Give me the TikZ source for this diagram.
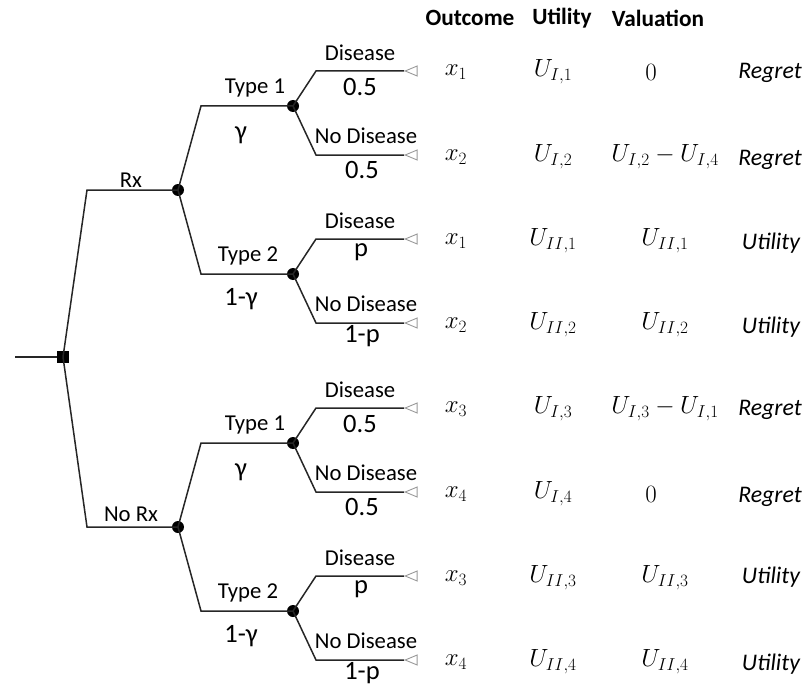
\documentclass[tikz,border=0pt]{standalone}
\usepackage{fontspec}
\setmainfont{Carlito}
\usetikzlibrary{shapes.geometric}
\begin{document}
\begin{tikzpicture}[x=1pt,y=-1pt,
 edge/.style={draw=black!85, line width=1.5pt},
 chance/.style={circle, fill=black, inner sep=0pt, minimum size=12pt},
 decision/.style={rectangle, fill=black, inner sep=0pt, minimum size=12pt},
 term/.style={isosceles triangle, isosceles triangle stretches, shape border rotate=180, draw=black!40, line width=0.9pt, inner sep=0pt, minimum width=10pt, minimum height=12pt},
 lbl/.style={inner sep=0pt, font=\fontsize{22.7}{26}\selectfont},
 prob/.style={inner sep=0pt, font=\fontsize{26.5}{29}\selectfont},
 head/.style={inner sep=0pt, font=\bfseries\fontsize{23.3}{26}\selectfont},
 mth/.style={inner sep=0pt, font=\fontsize{27}{30}\selectfont},
 note/.style={inner sep=0pt, font=\itshape\fontsize{23.8}{26}\selectfont}]
\useasboundingbox (0,0) rectangle (804,685);

% root
\coordinate (start) at (15,357);
\node[decision] (d0) at (63,357) {};
\draw[edge] (start) -- (d0);

\foreach \h/\dy/\rx/\ry in {a/0/Rx/180, b/337/No Rx/514} {
  \node[chance] (\h c) at (178,{190+\dy}) {};
  \coordinate (\h k) at (87,{190+\dy});
  \draw[edge] (d0.center) -- (\h k) -- (\h c.center);
  \node[lbl] (\h rxl) at (131,\ry) {\rx};
  % type 1
  \node[chance] (\h t1) at (293,{106+\dy}) {};
  \coordinate (\h t1k) at (201,{106+\dy});
  \draw[edge] (\h c.center) -- (\h t1k) -- (\h t1.center);
  \node[lbl] (\h t1l) at (255,{88+\dy}) {Type 1};
  \node[prob] (\h t1p) at (241,{135+\dy}) {γ};
  % type 2
  \node[chance] (\h t2) at (293,{274+\dy}) {};
  \coordinate (\h t2k) at (201,{274+\dy});
  \draw[edge] (\h c.center) -- (\h t2k) -- (\h t2.center);
  \node[lbl] (\h t2l) at (248,{256+\dy}) {Type 2};
  \node[prob] (\h t2p) at (241,{299+\dy}) {1-γ};
  % terminals
  \node[term, anchor=apex] (\h e1) at (404,{71+\dy}) {};
  \node[term, anchor=apex] (\h e2) at (404,{155+\dy}) {};
  \node[term, anchor=apex] (\h e3) at (404,{239+\dy}) {};
  \node[term, anchor=apex] (\h e4) at (404,{323+\dy}) {};
  \coordinate (\h k1) at (316,{71+\dy});
  \coordinate (\h k2) at (316,{155+\dy});
  \coordinate (\h k3) at (316,{239+\dy});
  \coordinate (\h k4) at (316,{323+\dy});
  \draw[edge] (\h t1.center) -- (\h k1) -- (\h e1.apex);
  \draw[edge] (\h t1.center) -- (\h k2) -- (\h e2.apex);
  \draw[edge] (\h t2.center) -- (\h k3) -- (\h e3.apex);
  \draw[edge] (\h t2.center) -- (\h k4) -- (\h e4.apex);
  \node[lbl] (\h l1) at (360,{53+\dy}) {Disease};
  \node[prob] (\h p1) at (360,{87+\dy}) {0.5};
  \node[lbl] (\h l2) at (366,{136+\dy}) {No Disease};
  \node[prob] (\h p2) at (362,{170+\dy}) {0.5};
  \node[lbl] (\h l3) at (360,{221+\dy}) {Disease};
  \node[prob] (\h p3) at (361,{252+\dy}) {p};
  \node[lbl] (\h l4) at (366,{304+\dy}) {No Disease};
  \node[prob] (\h p4) at (362,{336+\dy}) {1-p};
}

% headers
\node[head] (h1) at (470,18) {Outcome};
\node[head] (h2) at (562,18) {Utility};
\node[head] (h3) at (658,18) {Valuation};

% rows
\node[mth] (o1) at (456,72) {$x_1$};
\node[mth] (o2) at (456,157) {$x_2$};
\node[mth] (o3) at (456,241) {$x_1$};
\node[mth] (o4) at (456,325) {$x_2$};
\node[mth] (o5) at (456,409) {$x_3$};
\node[mth] (o6) at (456,494) {$x_4$};
\node[mth] (o7) at (456,578) {$x_3$};
\node[mth] (o8) at (456,662) {$x_4$};

\node[mth] (u1) at (553,72) {$U_{I,1}$};
\node[mth] (u2) at (553,157) {$U_{I,2}$};
\node[mth] (u3) at (553,241) {$U_{II,1}$};
\node[mth] (u4) at (553,325) {$U_{II,2}$};
\node[mth] (u5) at (553,409) {$U_{I,3}$};
\node[mth] (u6) at (553,494) {$U_{I,4}$};
\node[mth] (u7) at (553,578) {$U_{II,3}$};
\node[mth] (u8) at (553,662) {$U_{II,4}$};

\node[mth] (v1) at (651,72) {$0$};
\node[mth] (v2) at (665,157) {$U_{I,2}-U_{I,4}$};
\node[mth] (v3) at (665,241) {$U_{II,1}$};
\node[mth] (v4) at (665,325) {$U_{II,2}$};
\node[mth] (v5) at (665,409) {$U_{I,3}-U_{I,1}$};
\node[mth] (v6) at (651,494) {$0$};
\node[mth] (v7) at (665,578) {$U_{II,3}$};
\node[mth] (v8) at (665,662) {$U_{II,4}$};

\node[note] (n1) at (770,73) {Regret};
\node[note] (n2) at (770,160) {Regret};
\node[note] (n3) at (771,243) {Utility};
\node[note] (n4) at (771,327) {Utility};
\node[note] (n5) at (770,410) {Regret};
\node[note] (n6) at (770,497) {Regret};
\node[note] (n7) at (771,577) {Utility};
\node[note] (n8) at (771,664) {Utility};
\end{tikzpicture}
\end{document}
